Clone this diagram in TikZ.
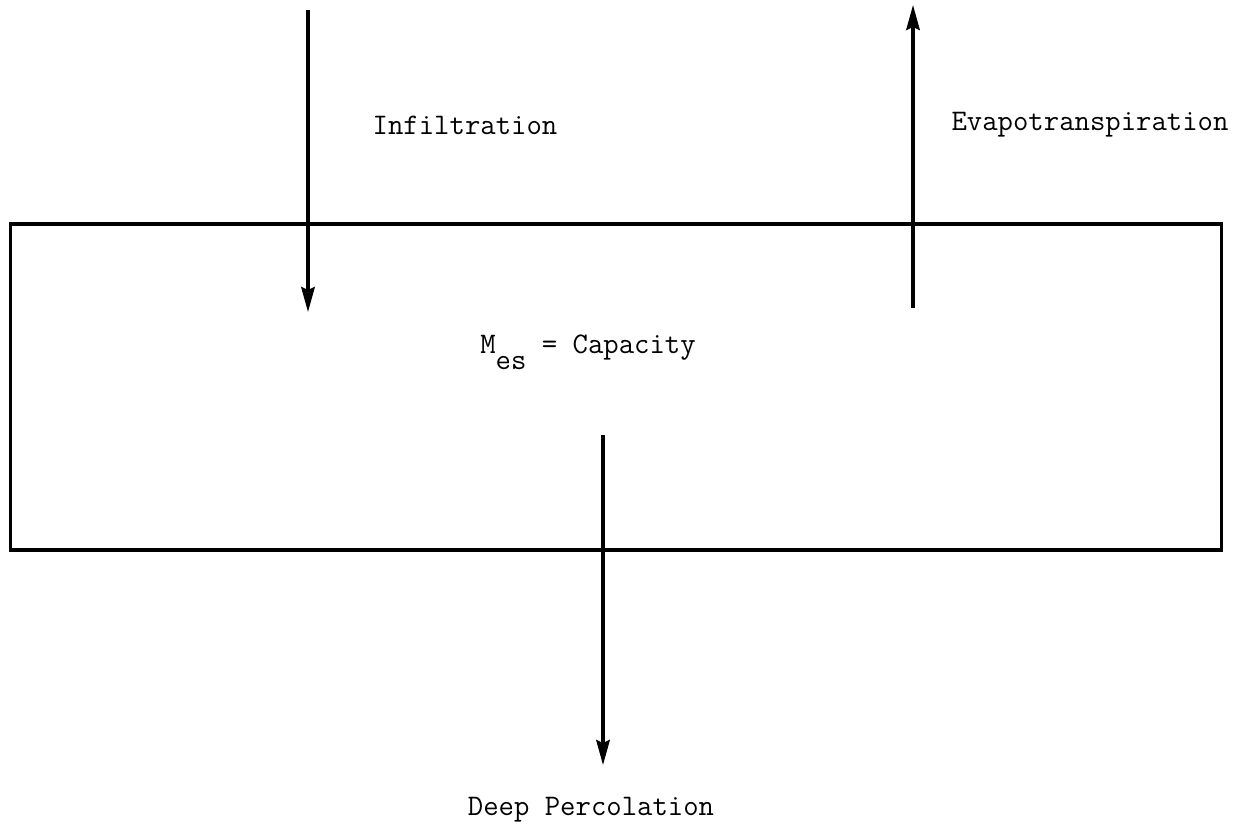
\documentclass[tikz,border=0pt]{standalone}
\usepackage{fontspec}
\setmonofont{Latin Modern Mono}
\usetikzlibrary{arrows.meta}
\begin{document}
\begin{tikzpicture}[x=0.02cm,y=-0.02cm,
  lbl/.style={font=\ttfamily\fontsize{17}{20}\selectfont, inner sep=0pt, anchor=center},
  flow/.style={line width=1.9pt, -{Stealth[length=0.5cm,width=0.27cm,inset=0.06cm]}},
  store/.style={draw, line width=1.8pt, rectangle, inner sep=0pt, minimum width=24.24cm, minimum height=6.52cm}]
\useasboundingbox (0,0) rectangle (1240,825);
\node[store] (box) at (616,387) {};
\coordinate (inTop) at (308,10);
\coordinate (inEnd) at (308,312);
\coordinate (etStart) at (913,308);
\coordinate (etTop) at (913,5);
\coordinate (dpStart) at (603,435);
\coordinate (dpEnd) at (603,765);
\draw[flow] (inTop) -- (inEnd);
\draw[flow] (etStart) -- (etTop);
\draw[flow] (dpStart) -- (dpEnd);
\node[lbl] (inf) at (465,125) {Infiltration};
\node[lbl] (evap) at (1090,125) {Evapotranspiration};
\node[lbl, anchor=west] (cap) at (480,352) {M\raisebox{-0.55em}{es} = Capacity};
\node[lbl] (deep) at (591,810) {Deep Percolation};
\end{tikzpicture}
\end{document}
